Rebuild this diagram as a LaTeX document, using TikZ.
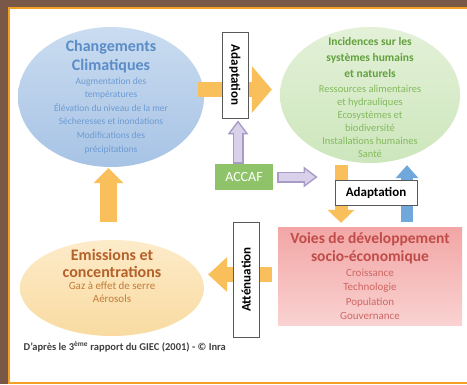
\documentclass[tikz,border=0pt]{standalone}
\usepackage{fontspec}
\setmainfont{Carlito}
\usepackage{tikz}
\usetikzlibrary{arrows.meta, shapes.geometric, positioning, backgrounds}

\definecolor{cadre}{HTML}{7A5848}
\definecolor{liseret}{HTML}{F2A124}
\definecolor{bleu}{HTML}{5A8CC8}
\definecolor{bleuclair}{HTML}{6C9BD2}
\definecolor{bleuhaut}{HTML}{CADCF0}
\definecolor{bleubas}{HTML}{A7C3E5}
\definecolor{vert}{HTML}{62A03E}
\definecolor{vertclair}{HTML}{84BA5E}
\definecolor{verthaut}{HTML}{E3F1D8}
\definecolor{vertbas}{HTML}{CDE6BC}
\definecolor{brun}{HTML}{B4612A}
\definecolor{brunclair}{HTML}{C27B3A}
\definecolor{ocrehaut}{HTML}{FDEBC9}
\definecolor{ocrebas}{HTML}{F9DBA1}
\definecolor{rouge}{HTML}{C04C4A}
\definecolor{rougeclair}{HTML}{CF6764}
\definecolor{rosehaut}{HTML}{F2A6A5}
\definecolor{rosebas}{HTML}{F9D2D1}
\definecolor{jaune}{HTML}{F8BF5A}
\definecolor{ciel}{HTML}{70A8DC}
\definecolor{lilas}{HTML}{D9D1EA}
\definecolor{lilasbord}{HTML}{A99BC8}
\definecolor{accafvert}{HTML}{8FC36A}

\begin{document}
\begin{tikzpicture}[x=1pt,y=-1pt,semithick]
\tikzstyle{bulle}=[ellipse,inner sep=0pt]
\tikzstyle{etiquette}=[draw=black!65,fill=white,line width=0.9pt,inner sep=0pt,font=\fontsize{13}{15}\selectfont\bfseries]
\tikzstyle{fleche}=[draw=jaune]
\tikzstyle{lilasfleche}=[draw=lilasbord,line width=11pt,-{Triangle[width=21pt,length=14pt,line width=0pt]},
    postaction={draw=lilas,line width=8pt,-{Triangle[width=15pt,length=10pt,line width=0pt]},shorten >=2.5pt,shorten <=1.5pt}]

\useasboundingbox (0,0) rectangle (467,384);

\begin{scope}[on background layer]
  \fill[cadre] (0,0) rectangle (467,384);
  \draw[liseret,line width=2pt,fill=white] (8.8,8.3) rectangle (480,382.5);

  % the four boxes of the cycle
  \node[bulle,minimum width=186,minimum height=140,top color=bleuhaut,bottom color=bleubas] (climat) at (111,97) {};
  \node[bulle,minimum width=180,minimum height=136,top color=verthaut,bottom color=vertbas] (impacts) at (370,95) {};
  \node[bulle,minimum width=184,minimum height=96,top color=ocrehaut,bottom color=ocrebas] (emissions) at (112,288) {};
  \node[rectangle,minimum width=184,minimum height=98,top color=rosehaut,bottom color=rosebas,
        align=center,text=rougeclair,font=\fontsize{11}{14.5}\selectfont] (voies) at (370,276)
       {{\color{rouge}\fontsize{15.5}{19}\selectfont\bfseries Voies de développement}\\[4pt]
        {\color{rouge}\fontsize{15.5}{19}\selectfont\bfseries socio-économique}\\
        Croissance\\Technologie\\Population\\Gouvernance};
\end{scope}

\node[align=center,text=bleuclair,font=\fontsize{9.5}{13.6}\selectfont] (climtexte) at (111,97)
     {{\color{bleu}\fontsize{16}{19}\selectfont\bfseries Changements}\\[4pt]
      {\color{bleu}\fontsize{16}{19}\selectfont\bfseries Climatiques}\\
      Augmentation des\\températures\\Élévation du niveau de la mer\\
      Sécheresses et inondations\\Modifications des\\précipitations};

\node[align=center,text=vertclair,font=\fontsize{10.5}{13}\selectfont] (impactstexte) at (370,97)
     {{\color{vert}\fontsize{11.5}{16}\selectfont\bfseries Incidences sur les}\\[3pt]
      {\color{vert}\fontsize{11.5}{16}\selectfont\bfseries systèmes humains}\\[3pt]
      {\color{vert}\fontsize{11.5}{16}\selectfont\bfseries et naturels}\\[2pt]
      Ressources alimentaires\\et hydrauliques\\Ecosystèmes et\\biodiversité\\
      Installations humaines\\Santé};

\node[align=center,text=brunclair,font=\fontsize{11}{12.5}\selectfont] (emitexte) at (112,276)
     {{\color{brun}\fontsize{16}{17}\selectfont\bfseries Emissions et}\\[4pt]
      {\color{brun}\fontsize{16}{17}\selectfont\bfseries concentrations}\\
      Gaz à effet de serre\\Aérosols};

% labels sitting on the arrows
\node[etiquette,rotate=-90,minimum width=86,minimum height=26] (adapt1) at (235,75) {Adaptation};
\node[etiquette,minimum width=82,minimum height=25] (adapt2) at (376,192.5) {Adaptation};
\node[etiquette,rotate=90,minimum width=115,minimum height=26] (attenuation) at (246,279.5) {Atténuation};
\node[fill=accafvert,text=white,minimum width=58,minimum height=26,inner sep=0pt,
      font=\fontsize{14}{16}\selectfont] (accaf) at (244,177) {ACCAF};

\node[anchor=west,text=black!75,font=\fontsize{10.5}{12}\selectfont\bfseries] (source) at (20,347)
     {D'après le 3\textsuperscript{ème} rapport du GIEC (2001) - © Inra};

\begin{scope}[on background layer]
  \draw[fleche,line width=15pt,-{Triangle[width=47pt,length=20pt,line width=0pt]}]
       ([shift={(-6,-7.5)}]climat.east) -- ([shift={(-8,-5.5)}]impacts.west);
  \draw[fleche,line width=13pt,-{Triangle[width=27pt,length=13pt,line width=0pt]}]
       ([shift={(-29,2)}]impacts.south) -- ([shift={(-29,-4)}]voies.north);
  \draw[draw=ciel,line width=12pt,-{Triangle[width=23pt,length=13pt,line width=0pt]}]
       ([shift={(37,-5)}]voies.north) -- ([shift={(37,2)}]impacts.south);
  \draw[fleche,line width=15pt,-{Triangle[width=35pt,length=19pt,line width=0pt]}]
       ([shift={(-6,-1.5)}]voies.west) -- ([shift={(4,-13.5)}]emissions.east);
  \draw[fleche,line width=17pt,-{Triangle[width=30pt,length=15pt,line width=0pt]}]
       ([shift={(-3.5,-18)}]emissions.north) -- ([shift={(-2.5,1)}]climat.south);
  \draw[lilasfleche] ([xshift=-6pt]accaf.north) -- ([shift={(3,2)}]adapt1.east);
  \draw[lilasfleche] ([xshift=4pt]accaf.east) -- ([shift={(-17,-15.5)}]adapt2.west);
\end{scope}

\end{tikzpicture}
\end{document}
